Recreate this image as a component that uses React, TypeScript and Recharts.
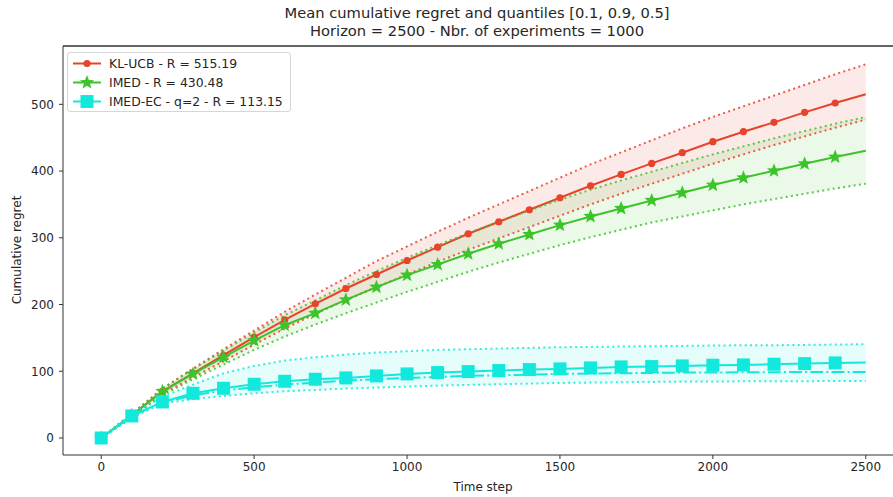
import React from 'react'
import {
  Area,
  ComposedChart,
  Line,
  ReferenceLine,
  XAxis,
  YAxis,
} from 'recharts'

const STEPS = [
  0, 100, 200, 300, 400, 500, 600, 700, 800, 900, 1000, 1100, 1200, 1300, 1400,
  1500, 1600, 1700, 1800, 1900, 2000, 2100, 2200, 2300, 2400, 2500,
]

const KLUCB_MEAN = [
  0, 34, 70, 97, 124, 151, 177, 201, 224, 245, 266, 286, 306, 324, 342, 360,
  378, 395, 411.5, 427.5, 444, 459, 473, 488, 502, 515.19,
]
const KLUCB_Q90 = [
  0, 36, 74, 104, 133, 161, 189, 215, 240, 265, 287, 309, 330, 350, 370, 390,
  410, 428, 446, 464, 481, 497, 513, 529, 545, 560,
]
const KLUCB_Q10 = [
  0, 32, 66, 91, 115, 140, 164, 186, 207, 226, 245, 264, 282, 299, 316, 333,
  350, 366, 381, 396, 411, 425, 439, 452, 465, 477,
]

const IMED_MEAN = [
  0, 34, 70, 96, 121, 146, 169, 187, 207, 226, 244, 260, 276, 291, 305, 319,
  332, 344, 356, 367.5, 379, 390, 400.5, 411, 421, 430.48,
]
const IMED_Q90 = [
  0, 36, 74, 103, 131, 158, 184, 206, 229, 250, 270, 289, 307, 324, 341, 357,
  372, 386, 399, 412, 425, 437, 449, 460, 471, 481,
]
const IMED_Q10 = [
  0, 31, 64, 88, 110, 132, 152, 170, 187, 203, 219, 234, 249, 263, 276, 289,
  301, 312, 323, 332, 341, 350, 358, 366, 374, 381,
]

const IMEDEC_MEAN = [
  0, 33, 54, 67, 74.5, 80.5, 85, 88, 90, 93, 96, 98, 99.5, 101, 102.5, 103.5,
  105, 106.5, 107, 108, 109, 109.5, 110.5, 111.5, 112.5, 113.15,
]
const IMEDEC_Q90 = [
  0, 36, 62, 80, 97, 108, 116, 121, 125, 128, 130, 132, 133, 134, 135, 136,
  136.5, 137, 137.5, 138, 138.5, 139, 139, 139.5, 140, 140.5,
]
const IMEDEC_Q10 = [
  0, 30, 52, 58, 63, 67, 70, 72, 74, 75.5, 77, 78.5, 79.5, 80.5, 81.5, 82.5,
  83, 83.5, 84, 84.5, 84.5, 85, 85, 85, 85.5, 85.5,
]
const IMEDEC_Q50 = [
  0, 33, 53, 64, 71, 76, 80, 83, 86, 88, 90, 91.5, 93, 94, 95, 96, 96.5, 97,
  97.5, 98, 98, 98.5, 98.5, 99, 99, 99,
]

const X_TICKS = [0, 500, 1000, 1500, 2000, 2500]
const Y_TICKS = [0, 100, 200, 300, 400, 500]

const LEGEND_LABELS = [
  'KL-UCB - R = 515.19',
  'IMED - R = 430.48',
  'IMED-EC - q=2 - R = 113.15',
]

const RED = '#e8432b'
const GREEN = '#3cc42a'
const CYAN = '#12e9dc'
const FONT = '"DejaVu Sans", sans-serif'
const TEXT = '#262626'
const LAST_MARKED = 2400

const data = STEPS.map((t, i) => ({
  t,
  klMean: KLUCB_MEAN[i],
  klBand: [KLUCB_Q10[i], KLUCB_Q90[i]],
  klLo: KLUCB_Q10[i],
  klHi: KLUCB_Q90[i],
  imMean: IMED_MEAN[i],
  imBand: [IMED_Q10[i], IMED_Q90[i]],
  imLo: IMED_Q10[i],
  imHi: IMED_Q90[i],
  ecMean: IMEDEC_MEAN[i],
  ecBand: [IMEDEC_Q10[i], IMEDEC_Q90[i]],
  ecLo: IMEDEC_Q10[i],
  ecHi: IMEDEC_Q90[i],
  ecMed: IMEDEC_Q50[i],
}))

function starPoints(cx: number, cy: number, outer: number, inner: number) {
  const pts: string[] = []
  for (let k = 0; k < 10; k++) {
    const r = k % 2 === 0 ? outer : inner
    const a = -Math.PI / 2 + (k * Math.PI) / 5
    pts.push(`${cx + r * Math.cos(a)},${cy + r * Math.sin(a)}`)
  }
  return pts.join(' ')
}

function Marker({ kind, cx, cy }: { kind: string; cx: number; cy: number }) {
  if (kind === 'circle') return <circle cx={cx} cy={cy} r={3.6} fill={RED} />
  if (kind === 'star')
    return <polygon points={starPoints(cx, cy, 7.5, 3.2)} fill={GREEN} />
  return <rect x={cx - 6.5} y={cy - 6.5} width={13} height={13} fill={CYAN} />
}

// markers every 100 steps, none on the final point
const dotFor = (kind: string) => (props: any) => {
  const { cx, cy, payload, index } = props
  if (payload.t > LAST_MARKED || cx == null) return <g key={`d-${kind}-${index}`} />
  return (
    <g key={`d-${kind}-${index}`}>
      <Marker kind={kind} cx={cx} cy={cy} />
    </g>
  )
}

const DOTTED = '2 3.3'
const DASHDOT = '12.8 3.2 2 3.2'

function LegendBox() {
  const rows = [
    { color: RED, kind: 'circle' },
    { color: GREEN, kind: 'star' },
    { color: CYAN, kind: 'square' },
  ]
  return (
    <div
      style={{
        position: 'absolute',
        left: 67,
        top: 52,
        width: 222,
        height: 58,
        border: '1px solid #d6d6d6',
        borderRadius: 3,
        background: 'rgba(255,255,255,0.8)',
        fontFamily: FONT,
        fontSize: 12.4,
        color: TEXT,
      }}
    >
      {rows.map((r, i) => (
        <div
          key={i}
          style={{
            position: 'absolute',
            left: 4,
            top: 1 + i * 19,
            height: 19,
            display: 'flex',
            alignItems: 'center',
            whiteSpace: 'nowrap',
          }}
        >
          <svg width={30} height={19} style={{ marginRight: 7 }}>
            <line x1={1} y1={9.5} x2={29} y2={9.5} stroke={r.color} strokeWidth={2} />
            <Marker kind={r.kind} cx={15} cy={9.5} />
          </svg>
          <span>{LEGEND_LABELS[i]}</span>
        </div>
      ))}
    </div>
  )
}

export default function App() {
  return (
    <div
      style={{
        position: 'absolute',
        left: 0,
        top: 0,
        width: 893,
        height: 497,
        overflow: 'hidden',
        background: '#fff',
        fontFamily: FONT,
      }}
    >
      <div
        style={{
          position: 'absolute',
          left: 0,
          width: 954,
          top: 4,
          textAlign: 'center',
          fontSize: 14.7,
          lineHeight: '18px',
          color: TEXT,
        }}
      >
        <div>Mean cumulative regret and quantiles [0.1, 0.9, 0.5]</div>
        <div>Horizon = 2500 - Nbr. of experiments = 1000</div>
      </div>
      <ComposedChart
        width={904}
        height={497}
        data={data}
        margin={{ top: 46, right: 0, bottom: 0, left: 0 }}
      >
        <XAxis
          dataKey="t"
          type="number"
          domain={[-125, 2625]}
          allowDataOverflow
          ticks={X_TICKS}
          height={42}
          tickSize={4}
          tickMargin={3}
          tick={{ fontSize: 12, fill: TEXT, fontFamily: FONT }}
          stroke="#333"
        />
        <YAxis
          type="number"
          domain={[-25.5, 587.4]}
          allowDataOverflow
          ticks={Y_TICKS}
          width={63}
          tickSize={4}
          tickMargin={5}
          tick={{ fontSize: 12, fill: TEXT, fontFamily: FONT }}
          stroke="#333"
        />
        <ReferenceLine y={587.4} stroke="#333" strokeWidth={1.5} ifOverflow="visible" />

        <Area dataKey="klBand" stroke="none" fill={RED} fillOpacity={0.11} isAnimationActive={false} />
        <Line dataKey="klHi" stroke={RED} strokeWidth={2} strokeDasharray={DOTTED} strokeOpacity={0.85} dot={false} isAnimationActive={false} />
        <Line dataKey="klLo" stroke={RED} strokeWidth={2} strokeDasharray={DOTTED} strokeOpacity={0.85} dot={false} isAnimationActive={false} />
        <Line dataKey="klMean" stroke={RED} strokeWidth={2} dot={dotFor('circle')} isAnimationActive={false} />

        <Area dataKey="imBand" stroke="none" fill={GREEN} fillOpacity={0.1} isAnimationActive={false} />
        <Line dataKey="imHi" stroke={GREEN} strokeWidth={2} strokeDasharray={DOTTED} strokeOpacity={0.85} dot={false} isAnimationActive={false} />
        <Line dataKey="imLo" stroke={GREEN} strokeWidth={2} strokeDasharray={DOTTED} strokeOpacity={0.85} dot={false} isAnimationActive={false} />
        <Line dataKey="imMean" stroke={GREEN} strokeWidth={2} dot={dotFor('star')} isAnimationActive={false} />

        <Area dataKey="ecBand" stroke="none" fill={CYAN} fillOpacity={0.11} isAnimationActive={false} />
        <Line dataKey="ecHi" stroke={CYAN} strokeWidth={2} strokeDasharray={DOTTED} strokeOpacity={0.85} dot={false} isAnimationActive={false} />
        <Line dataKey="ecLo" stroke={CYAN} strokeWidth={2} strokeDasharray={DOTTED} strokeOpacity={0.85} dot={false} isAnimationActive={false} />
        <Line dataKey="ecMed" stroke={CYAN} strokeWidth={2} strokeDasharray={DASHDOT} dot={false} isAnimationActive={false} />
        <Line dataKey="ecMean" stroke={CYAN} strokeWidth={2} dot={dotFor('square')} isAnimationActive={false} />
      </ComposedChart>
      <LegendBox />
      <div
        style={{
          position: 'absolute',
          left: 483,
          top: 487,
          transform: 'translate(-50%, -50%)',
          fontSize: 12,
          color: TEXT,
          whiteSpace: 'nowrap',
        }}
      >
        Time step
      </div>
      <div
        style={{
          position: 'absolute',
          left: 17,
          top: 250,
          transform: 'translate(-50%, -50%) rotate(-90deg)',
          fontSize: 12,
          color: TEXT,
          whiteSpace: 'nowrap',
        }}
      >
        Cumulative regret
      </div>
    </div>
  )
}
